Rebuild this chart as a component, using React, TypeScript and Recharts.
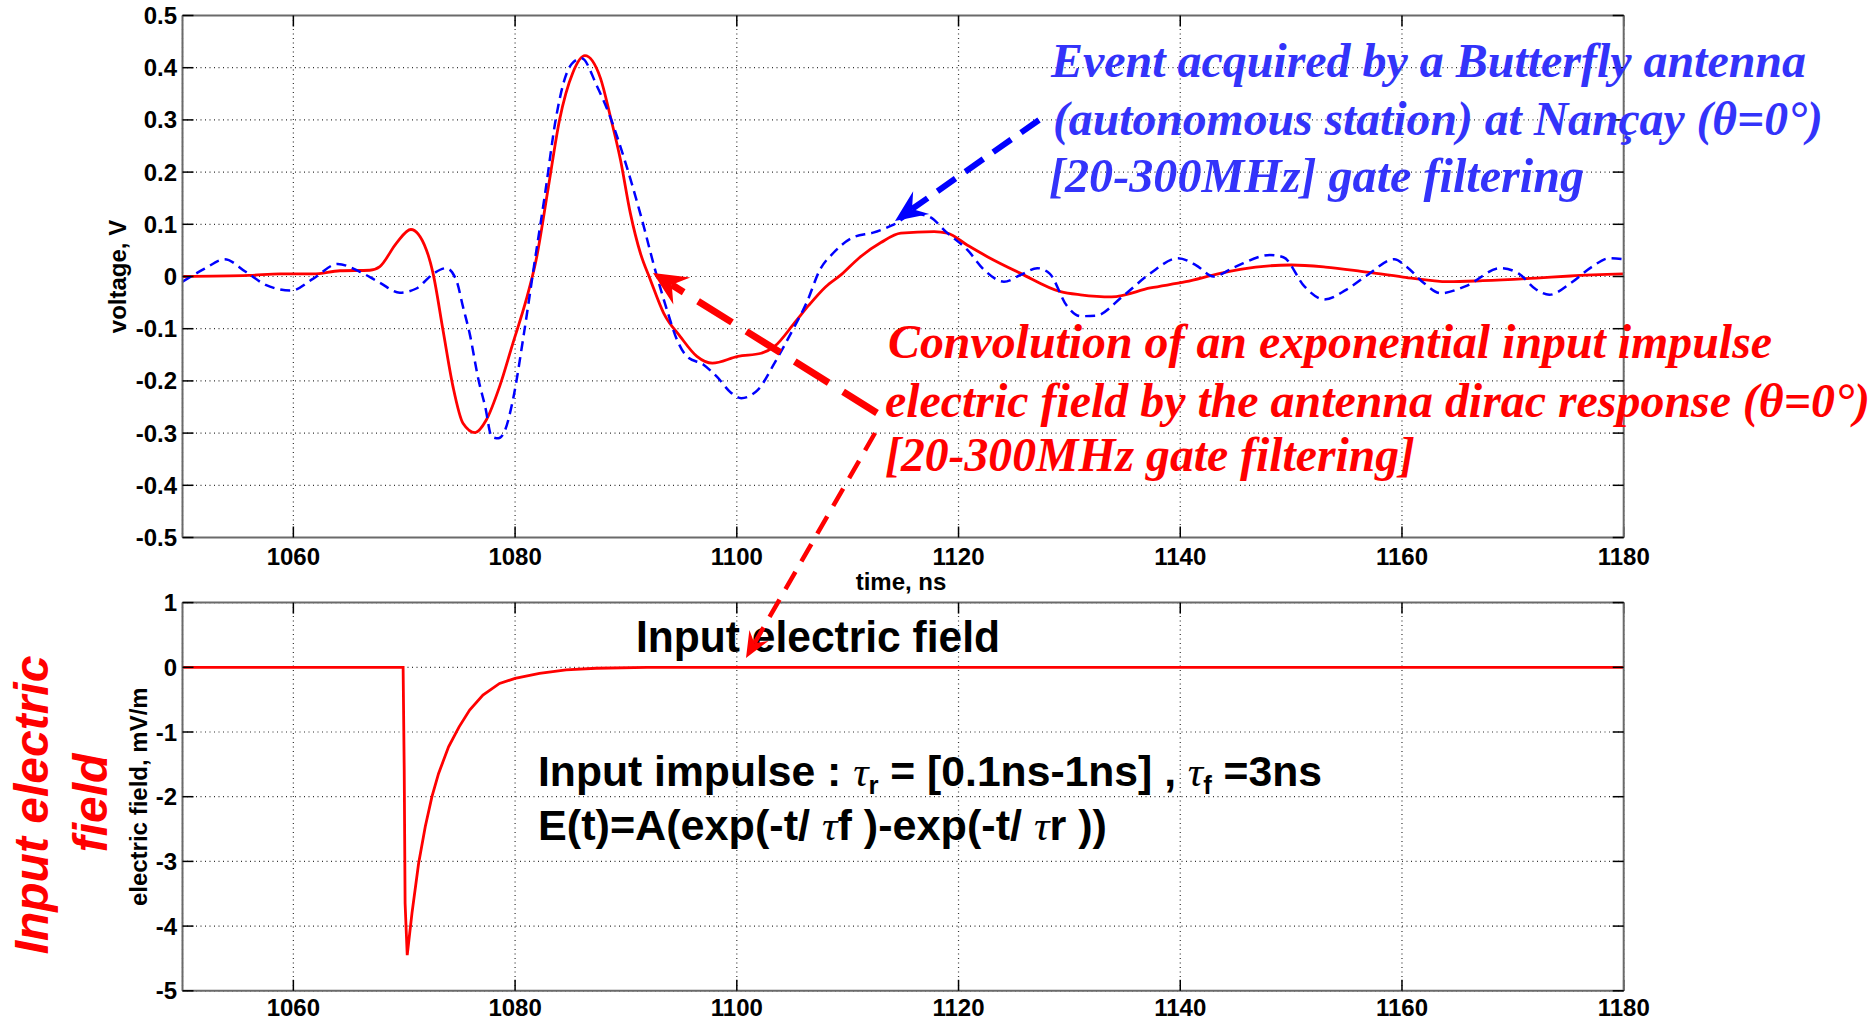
import React from 'react';
import { LineChart, Line, XAxis, YAxis, CartesianGrid } from 'recharts';

// ---------- data ----------
const timeTicks = [1060, 1080, 1100, 1120, 1140, 1160, 1180];
const voltageTicks = [-0.5, -0.4, -0.3, -0.2, -0.1, 0, 0.1, 0.2, 0.3, 0.4, 0.5];
const fieldTicks = [-5, -4, -3, -2, -1, 0, 1];

// measured event (blue dashed), time in ns, voltage in V
const measuredTime = [
  1050, 1052, 1053.8, 1055.7, 1057.5, 1059.8, 1061.8, 1064.0, 1066.0, 1067.8,
  1069.6, 1071.1, 1072.6, 1073.8, 1074.7, 1075.3, 1075.9, 1076.7, 1077.3, 1077.9,
  1078.5, 1079.1, 1079.8, 1080.8, 1081.7, 1082.7, 1083.7, 1084.5, 1085.1, 1086.0,
  1087.4, 1088.5, 1089.9, 1091.3, 1092.8, 1093.7, 1094.6, 1095.5, 1097.0, 1098.2,
  1099.5, 1100.4, 1101.9, 1103.4, 1105.1, 1106.3, 1107.5, 1108.7, 1110.5, 1112.3,
  1114.2, 1116.0, 1117.3, 1119.0, 1120.8, 1122.3, 1124.1, 1125.6, 1127.1, 1128.2,
  1129.8, 1131.0, 1132.4, 1134.8, 1137.3, 1139.8, 1141.4, 1143.0, 1144.9, 1148.1,
  1149.3, 1151.2, 1153.0, 1155.0, 1156.9, 1159.3, 1160.4, 1162.0, 1163.5, 1165.7,
  1168.9, 1170.5, 1172.1, 1173.3, 1175.2, 1177.1, 1178.7, 1180,
];
const measuredVoltage = [
  -0.01, 0.015, 0.033, 0.009, -0.016, -0.027, -0.004, 0.024, 0.009, -0.012,
  -0.031, -0.023, 0.005, 0.016, -0.007, -0.058, -0.109, -0.198, -0.249, -0.307,
  -0.31, -0.294, -0.237, -0.109, 0.019, 0.158, 0.305, 0.38, 0.407, 0.418,
  0.364, 0.31, 0.222, 0.12, 0.0, -0.064, -0.121, -0.153, -0.169, -0.192,
  -0.223, -0.233, -0.217, -0.166, -0.1, -0.05, 0.013, 0.045, 0.075, 0.084,
  0.1, 0.12, 0.115, 0.083, 0.051, 0.013, -0.01, 0.003, 0.016, 0.006,
  -0.057, -0.076, -0.075, -0.038, 0.006, 0.035, 0.022, 0, 0.018, 0.041,
  0.037, -0.019, -0.044, -0.025, 0.003, 0.033, 0.019, -0.013, -0.032, -0.019,
  0.016, 0.006, -0.025, -0.035, -0.013, 0.018, 0.035, 0.033,
];

// convolution result (red solid)
const simulatedTime = [
  1050, 1056, 1058.8, 1061.8, 1064.2, 1066.9, 1067.8, 1069.3, 1070.6, 1072.0,
  1072.6, 1073.5, 1074.4, 1075.3, 1076.4, 1077.4, 1078.6, 1079.8, 1081.0, 1081.9,
  1083.0, 1084.0, 1085.2, 1086.3, 1087.7, 1088.6, 1089.5, 1090.4, 1091.3, 1092.2,
  1093.4, 1094.9, 1096.4, 1097.8, 1100.1, 1102.2, 1103.4, 1105.2, 1106.5, 1108.0,
  1109.5, 1111.0, 1113.0, 1114.8, 1117.8, 1119.0, 1120.8, 1122.6, 1125.6, 1129.2,
  1131.0, 1133.8, 1137.3, 1140.5, 1143.6, 1146.8, 1150.0, 1153.1, 1156.3, 1160.1,
  1164.2, 1167.3, 1172.1, 1175.2, 1180,
];
const simulatedVoltage = [
  0, 0.002, 0.005, 0.005, 0.011, 0.012, 0.019, 0.064, 0.09, 0.051,
  0.006, -0.103, -0.211, -0.281, -0.299, -0.275, -0.211, -0.128, -0.045, 0.032,
  0.171, 0.299, 0.39, 0.423, 0.38, 0.306, 0.224, 0.121, 0.045, -0.006,
  -0.07, -0.115, -0.153, -0.166, -0.153, -0.147, -0.134, -0.089, -0.055, -0.02,
  0.005, 0.035, 0.065, 0.083, 0.086, 0.083, 0.06, 0.038, 0.006, -0.029,
  -0.035, -0.039, -0.022, -0.01, 0.006, 0.018, 0.022, 0.018, 0.01, -0.001,
  -0.01, -0.008, -0.003, 0.001, 0.005,
];

// input electric field (bottom), mV/m
const inputTime = [
  1050, 1069.9, 1070.0, 1070.08, 1070.27, 1070.7, 1071.3, 1071.9, 1072.5, 1073.1,
  1074.0, 1074.95, 1075.9, 1077.1, 1078.6, 1080.0, 1082.2, 1084.6, 1087.3, 1091.9, 1180,
];
const inputField = [
  0, 0, -1.6, -3.65, -4.45, -3.8, -3.03, -2.46, -2.0, -1.64,
  -1.23, -0.92, -0.66, -0.43, -0.25, -0.17, -0.093, -0.041, -0.015, 0, 0,
];

const zip = (ts: number[], vs: number[]) => ts.map((t, i) => ({ t, v: vs[i] }));
const measuredData = zip(measuredTime, measuredVoltage);
const simulatedData = zip(simulatedTime, simulatedVoltage);
const inputData = zip(inputTime, inputField);

// ---------- styles ----------
const SANS = '"Liberation Sans", Arial, Helvetica, sans-serif';
const SERIF = '"Liberation Serif", "Times New Roman", Times, serif';
const tickStyle = { fontSize: 24, fontWeight: 700, fontFamily: SANS, fill: '#000' };
const axisLineStyle = { stroke: '#6a6a6a', strokeWidth: 2 };
const tickLineStyle = { stroke: '#000', strokeWidth: 1.5 };
const empty = () => '';
const fmtV = (v: number) => (v === 0 ? '0' : v.toFixed(1));

const BLUE_TEXT = '#3333FA';
const RED = '#FF0000';

function Arrow({ x1, y1, x2, y2, color, width, dash, head, half }: any) {
  const dx = x2 - x1;
  const dy = y2 - y1;
  const len = Math.hypot(dx, dy);
  const ux = dx / len;
  const uy = dy / len;
  const px = -uy;
  const py = ux;
  const bx = x2 - ux * head;
  const by = y2 - uy * head;
  const nx = x2 - ux * head * 0.65;
  const ny = y2 - uy * head * 0.65;
  const pts = [
    [x2, y2],
    [bx + px * half, by + py * half],
    [nx, ny],
    [bx - px * half, by - py * half],
  ]
    .map((p) => p.join(','))
    .join(' ');
  return (
    <g>
      <line x1={x1} y1={y1} x2={nx} y2={ny} stroke={color} strokeWidth={width} strokeDasharray={dash} />
      <polygon points={pts} fill={color} />
    </g>
  );
}

function RotText({ x, y, children, ...rest }: any) {
  return (
    <text x={x} y={y} transform={`rotate(-90, ${x}, ${y})`} textAnchor="middle" {...rest}>
      {children}
    </text>
  );
}

function TopChart() {
  return (
    <LineChart width={1876} height={600} margin={{ top: 14.5, right: 251.3, bottom: 0, left: 0 }}>
      <CartesianGrid xAxisId="b" yAxisId="l" stroke="#333" strokeDasharray="1 3.5" strokeWidth={1.2} />
      <XAxis
        xAxisId="b" type="number" dataKey="t" domain={[1050, 1180]} ticks={timeTicks} allowDataOverflow
        height={62.5} tickSize={-11} tickMargin={21} tick={tickStyle} axisLine={axisLineStyle} tickLine={tickLineStyle}
      />
      <XAxis
        xAxisId="top" orientation="top" type="number" dataKey="t" domain={[1050, 1180]} ticks={timeTicks} allowDataOverflow
        height={1} tickSize={-11} tickFormatter={empty} tick={tickStyle} axisLine={axisLineStyle} tickLine={tickLineStyle}
      />
      <YAxis
        yAxisId="l" type="number" domain={[-0.5, 0.5]} ticks={voltageTicks} allowDataOverflow width={182.5}
        tickSize={-11} tickMargin={16.5} tick={tickStyle} tickFormatter={fmtV} axisLine={axisLineStyle} tickLine={tickLineStyle}
      />
      <YAxis
        yAxisId="r" orientation="right" type="number" domain={[-0.5, 0.5]} ticks={voltageTicks} allowDataOverflow width={1}
        tickSize={-11} tickFormatter={empty} tick={tickStyle} axisLine={axisLineStyle} tickLine={tickLineStyle}
      />
      <Line
        xAxisId="b" yAxisId="l" data={simulatedData} dataKey="v" type="monotone" stroke={RED}
        strokeWidth={2.8} dot={false} isAnimationActive={false}
      />
      <Line
        xAxisId="b" yAxisId="l" data={measuredData} dataKey="v" type="monotone" stroke="#0000FF"
        strokeWidth={2.5} strokeDasharray="10 6" dot={false} isAnimationActive={false}
      />
    </LineChart>
  );
}

function BottomChart() {
  return (
    <LineChart width={1876} height={461} margin={{ top: 41.6, right: 251.3, bottom: 0, left: 0 }}>
      <CartesianGrid xAxisId="b" yAxisId="l" stroke="#333" strokeDasharray="1 3.5" strokeWidth={1.2} />
      <XAxis
        xAxisId="b" type="number" dataKey="t" domain={[1050, 1180]} ticks={timeTicks} allowDataOverflow
        height={30.2} tickSize={-11} tickMargin={19.5} tick={tickStyle} axisLine={axisLineStyle} tickLine={tickLineStyle}
      />
      <XAxis
        xAxisId="top" orientation="top" type="number" dataKey="t" domain={[1050, 1180]} ticks={timeTicks} allowDataOverflow
        height={1} tickSize={-11} tickFormatter={empty} tick={tickStyle} axisLine={axisLineStyle} tickLine={tickLineStyle}
      />
      <YAxis
        yAxisId="l" type="number" domain={[-5, 1]} ticks={fieldTicks} allowDataOverflow width={182.5}
        tickSize={-11} tickMargin={16.5} tick={tickStyle} axisLine={axisLineStyle} tickLine={tickLineStyle}
      />
      <YAxis
        yAxisId="r" orientation="right" type="number" domain={[-5, 1]} ticks={fieldTicks} allowDataOverflow width={1}
        tickSize={-11} tickFormatter={empty} tick={tickStyle} axisLine={axisLineStyle} tickLine={tickLineStyle}
      />
      <Line
        xAxisId="b" yAxisId="l" data={inputData} dataKey="v" type="linear" stroke={RED}
        strokeWidth={2.8} dot={false} isAnimationActive={false}
      />
    </LineChart>
  );
}

function Overlay() {
  const serifBI = { fontFamily: SERIF, fontStyle: 'italic', fontWeight: 700, fontSize: 48, lengthAdjust: 'spacingAndGlyphs' } as any;
  const sansB = { fontFamily: SANS, fontWeight: 700, fill: '#000', lengthAdjust: 'spacingAndGlyphs' } as any;
  const tau = { fontFamily: SERIF, fontStyle: 'italic', fontWeight: 400 } as any;
  return (
    <svg width={1876} height={1021} style={{ position: 'absolute', left: 0, top: 0, pointerEvents: 'none' }}>
      {/* axis titles */}
      <RotText x={126} y={276.5} fontFamily={SANS} fontWeight={700} fontSize={24} fill="#000">voltage, V</RotText>
      <RotText x={147} y={796.7} fontFamily={SANS} fontWeight={700} fontSize={24} fill="#000">electric field, mV/m</RotText>
      <text x={901} y={590} textAnchor="middle" fontFamily={SANS} fontWeight={700} fontSize={24} fill="#000">time, ns</text>

      {/* left red title */}
      <RotText x={48} y={805} fontFamily={SANS} fontWeight={700} fontStyle="italic" fontSize={48} fill={RED}>Input electric</RotText>
      <RotText x={107} y={803} fontFamily={SANS} fontWeight={700} fontStyle="italic" fontSize={48} fill={RED}>field</RotText>

      {/* blue annotation */}
      <text x={1051} y={77} textLength={755} fill={BLUE_TEXT} {...serifBI}>Event acquired by a Butterfly antenna</text>
      <text x={1053} y={135} textLength={770} fill={BLUE_TEXT} {...serifBI}>(autonomous station) at Nançay (θ=0°)</text>
      <text x={1049} y={192} textLength={535} fill={BLUE_TEXT} {...serifBI}>[20-300MHz] gate filtering</text>

      {/* red annotation */}
      <text x={888} y={358} textLength={884} fill={RED} {...serifBI}>Convolution of an exponential input impulse</text>
      <text x={885} y={417} textLength={985} fill={RED} {...serifBI}>electric field by the antenna dirac response (θ=0°)</text>
      <text x={885} y={471} textLength={530} fill={RED} {...serifBI}>[20-300MHz gate filtering]</text>

      {/* bottom texts */}
      <text x={636} y={652} fontSize={44} textLength={364} {...sansB}>Input electric field</text>
      <text x={538} y={786} fontSize={43} textLength={784} {...sansB}>
        Input impulse : <tspan {...tau}>τ</tspan><tspan fontSize={26} dy={8}>r</tspan><tspan dy={-8}> = [0.1ns-1ns] , </tspan>
        <tspan {...tau}>τ</tspan><tspan fontSize={26} dy={8}>f</tspan><tspan dy={-8}> =3ns</tspan>
      </text>
      <text x={538} y={840} fontSize={43} textLength={569} {...sansB}>
        E(t)=A(exp(-t/ <tspan {...tau}>τ</tspan>f )-exp(-t/ <tspan {...tau}>τ</tspan>r ))
      </text>

      {/* arrows */}
      <Arrow x1={1039} y1={120} x2={895} y2={221} color="#0000FF" width={6} dash="22 12" head={32} half={14} />
      <Arrow x1={877} y1={413} x2={653} y2={273} color={RED} width={7} dash="40 17" head={34} half={16} />
      <Arrow x1={875} y1={433} x2={746} y2={658} color={RED} width={4.5} dash="20 12" head={26} half={11} />
    </svg>
  );
}

export default function App() {
  return (
    <div style={{ position: 'absolute', left: 0, top: 0, width: 1876, height: 1021, background: '#fff', overflow: 'hidden' }}>
      <div style={{ position: 'absolute', left: 0, top: 0 }}>
        <TopChart />
      </div>
      <div style={{ position: 'absolute', left: 0, top: 560 }}>
        <BottomChart />
      </div>
      <Overlay />
    </div>
  );
}
